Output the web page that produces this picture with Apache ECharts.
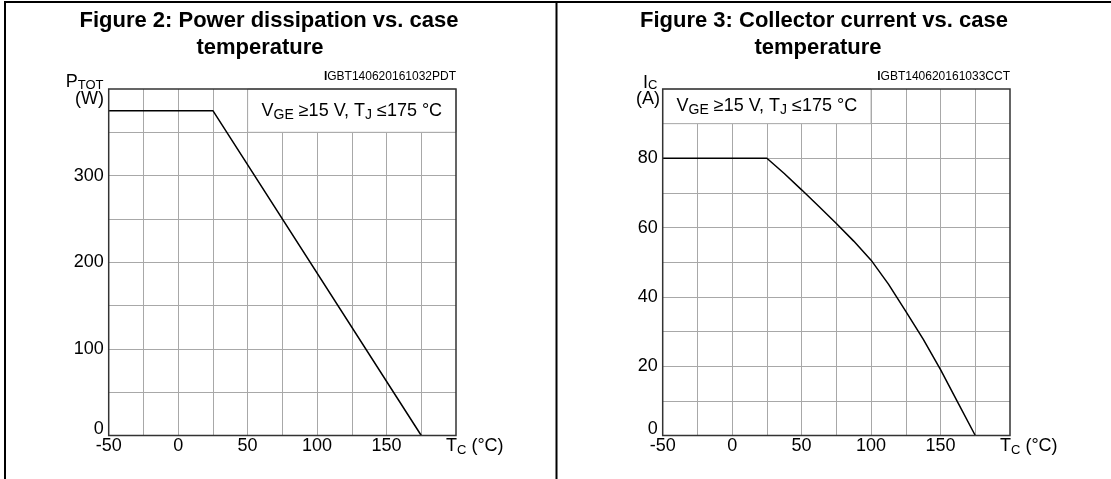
<!DOCTYPE html>
<html>
<head>
<meta charset="utf-8">
<script src="https://cdn.jsdelivr.net/npm/echarts@6/dist/echarts.min.js"></script>
<style>
  html, body { margin: 0; padding: 0; background: #fff; }
  #chart { width: 1111px; height: 479px; }
</style>
</head>
<body>
<div id="chart"></div>
<script>
// ---------------- data ----------------
const tcPower = [-50, 25, 175];
const pTot = [375, 375, 0];

const tcCurrent = [-50, 25, 37.5, 50, 62.5, 75, 87.5, 100, 112.5, 125, 137.5, 150, 162.5, 175];
const iC = [80, 80, 75.6, 70.9, 66.1, 61.2, 56.1, 50.6, 43.7, 35.8, 27.8, 19, 9.5, 0];

const xTickLabels = ['-50', '0', '50', '100', '150'];
const pTickLabels = ['0', '100', '200', '300'];
const iTickLabels = ['0', '20', '40', '60', '80'];

const titleLeft = ['Figure 2: Power dissipation vs. case', 'temperature'];
const titleRight = ['Figure 3: Collector current vs. case', 'temperature'];
const figIds = ['IGBT140620161032PDT', 'IGBT140620161033CCT'];
const yNameLeft = ['P', 'TOT', '(W)'];
const yNameRight = ['I', 'C', '(A)'];

const pBox = [[50, 350], [200, 400]];
const iBox = [[-50, 90], [100, 100]];

// ---------------- styles ----------------
const FONT = '"Liberation Sans", Arial, Helvetica, sans-serif';
const GRID_COLOR = '#a8a8a8';
const FRAME_COLOR = '#333';

const condRich = {
  n: { fontFamily: FONT, fontSize: 18, lineHeight: 22, color: '#000' },
  s: { fontFamily: FONT, fontSize: 14, lineHeight: 15, verticalAlign: 'bottom', color: '#000' }
};
const condText = '{n|V}{s|GE}{n| ≥15 V, T}{s|J}{n| ≤175 °C}';

function pairs(xs, ys) { return xs.map((x, i) => [x, ys[i]]); }

function xAxisCfg(gridIndex) {
  return {
    type: 'value', gridIndex, min: -50, max: 200, interval: 25,
    name: '{m|T}{s|C}{m| (°C)}',
    nameLocation: 'end', nameGap: -10, nameMoveOverlap: false,
    nameTextStyle: {
      align: 'left', verticalAlign: 'top',
      rich: {
        m: { fontFamily: FONT, fontSize: 18, lineHeight: 21.5, color: '#000' },
        s: { fontFamily: FONT, fontSize: 13, lineHeight: 11.4, verticalAlign: 'bottom', color: '#000' }
      }
    },
    axisLine: { show: false }, axisTick: { show: false },
    axisLabel: {
      margin: 2, fontFamily: FONT, fontSize: 18, color: '#000',
      formatter: v => xTickLabels.includes(String(v)) ? String(v) : ''
    },
    splitLine: { show: true, showMinLine: false, showMaxLine: false, lineStyle: { color: GRID_COLOR, width: 1 } }
  };
}

function yAxisCfg(gridIndex, max, interval, labels) {
  return {
    type: 'value', gridIndex, min: 0, max, interval,
    axisLine: { show: false }, axisTick: { show: false },
    axisLabel: {
      margin: 5, fontFamily: FONT, fontSize: 18, color: '#000',
      formatter: v => {
        const s = String(v);
        if (!labels.includes(s)) return '';
        return v === 0 ? '{z|0}' : s;
      },
      rich: { z: { fontFamily: FONT, fontSize: 18, lineHeight: 18, padding: [0, 0, 12, 0], color: '#000' } }
    },
    splitLine: { show: true, showMinLine: false, showMaxLine: false, lineStyle: { color: GRID_COLOR, width: 1 } }
  };
}

function boxArea(box) {
  return {
    silent: true,
    itemStyle: { color: '#fff', borderColor: GRID_COLOR, borderWidth: 1 },
    label: { show: true, position: 'inside', formatter: condText, rich: condRich, color: '#000' },
    data: [[{ coord: box[0] }, { coord: box[1] }]]
  };
}

const chart = echarts.init(document.getElementById('chart'), null, { renderer: 'canvas' });

const gridCommon = {
  top: 89, height: 346.5, width: 347.3,
  show: true, z: 10, backgroundColor: 'transparent',
  borderColor: FRAME_COLOR, borderWidth: 1.5,
  containLabel: false, outerBoundsMode: 'none'
};

function txt(x, y, text, font, align) {
  return {
    type: 'text', x, y, silent: true, z: 20,
    style: { text, font, fill: '#000', align, textAlign: align, verticalAlign: 'middle', textVerticalAlign: 'middle' }
  };
}
function idTxt(x, y, text) {
  return {
    type: 'text', x, y, silent: true, z: 20,
    style: {
      text: '{b|' + text[0] + '}{r|' + text.slice(1) + '}',
      align: 'right', textAlign: 'right', verticalAlign: 'middle', textVerticalAlign: 'middle',
      rich: {
        b: { fontFamily: FONT, fontSize: 12, fontWeight: 'bold', fill: '#000' },
        r: { fontFamily: FONT, fontSize: 12, fill: '#000' }
      }
    }
  };
}
function subTxt(x, y, parts) {
  return {
    type: 'text', x, y, silent: true, z: 20,
    style: {
      text: '{m|' + parts[0] + '}{s|' + parts[1] + '}',
      align: 'right', textAlign: 'right', verticalAlign: 'middle', textVerticalAlign: 'middle',
      rich: {
        m: { fontFamily: FONT, fontSize: 18, lineHeight: 18, fill: '#000' },
        s: { fontFamily: FONT, fontSize: 13, lineHeight: 11, verticalAlign: 'bottom', fill: '#000' }
      }
    }
  };
}

const TITLE_FONT = 'bold 22px ' + FONT;
const LABEL_FONT = '18px ' + FONT;

const option = {
  animation: false,
  backgroundColor: '#fff',
  textStyle: { fontFamily: FONT },
  grid: [
    Object.assign({ left: 108.7 }, gridCommon),
    Object.assign({ left: 662.7 }, gridCommon)
  ],
  xAxis: [xAxisCfg(0), xAxisCfg(1)],
  yAxis: [
    yAxisCfg(0, 400, 50, pTickLabels),
    yAxisCfg(1, 100, 10, iTickLabels)
  ],
  series: [
    {
      type: 'line', xAxisIndex: 0, yAxisIndex: 0,
      data: pairs(tcPower, pTot), showSymbol: false, symbol: 'none',
      lineStyle: { color: '#000', width: 1.5 }, z: 3,
      markArea: boxArea(pBox)
    },
    {
      type: 'line', xAxisIndex: 1, yAxisIndex: 1,
      data: pairs(tcCurrent, iC), showSymbol: false, symbol: 'none',
      lineStyle: { color: '#000', width: 1.5 }, z: 3,
      markArea: boxArea(iBox)
    }
  ],
  graphic: [
    // panel frame
    { type: 'line', silent: true, shape: { x1: 4, y1: 2, x2: 1111, y2: 2 }, style: { stroke: '#000', lineWidth: 2 } },
    { type: 'line', silent: true, shape: { x1: 5, y1: 1, x2: 5, y2: 479 }, style: { stroke: '#000', lineWidth: 2 } },
    { type: 'line', silent: true, shape: { x1: 556.5, y1: 1, x2: 556.5, y2: 479 }, style: { stroke: '#000', lineWidth: 2 } },
    // titles
    txt(269, 21, titleLeft[0], TITLE_FONT, 'center'),
    txt(260, 47.5, titleLeft[1], TITLE_FONT, 'center'),
    txt(824, 21, titleRight[0], TITLE_FONT, 'center'),
    txt(818, 47.5, titleRight[1], TITLE_FONT, 'center'),
    // figure ids
    idTxt(456, 77, figIds[0]),
    idTxt(1010, 77, figIds[1]),
    // y-axis names
    subTxt(103.5, 82.5, yNameLeft),
    txt(104, 99.5, yNameLeft[2], LABEL_FONT, 'right'),
    subTxt(657.5, 83, yNameRight),
    txt(660, 99.5, yNameRight[2], LABEL_FONT, 'right')
  ]
};

chart.setOption(option);
</script>
</body>
</html>
